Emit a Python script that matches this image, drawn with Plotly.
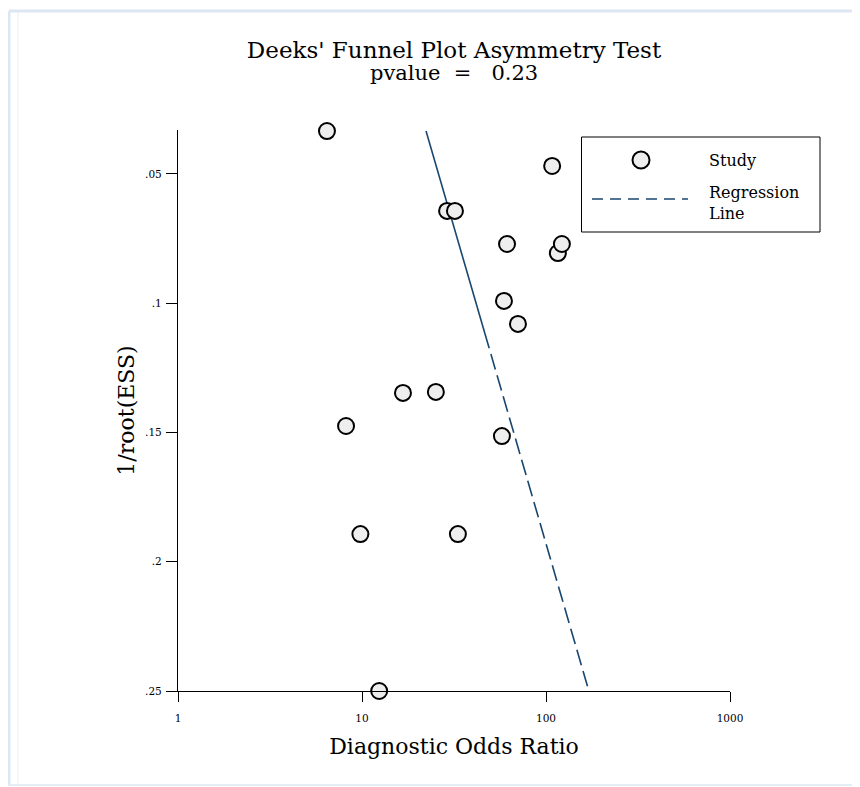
import plotly.graph_objects as go

# ---- data ----
study_dor = [6.45, 108, 29.0, 32.0, 61.4, 116, 122, 59.1, 70.4, 16.7, 25.2, 8.19, 57.6, 9.8, 33.2, 12.4]
study_inv_root_ess = [0.0334, 0.0469, 0.0643, 0.0643, 0.0771, 0.0806, 0.0771, 0.0991, 0.108,
                      0.1347, 0.1343, 0.1475, 0.1514, 0.1893, 0.1893, 0.25]

# regression: log10(DOR) = intercept + slope * (1/root(ESS))
reg_intercept = 1.2115
reg_slope = 4.086
reg_y_solid = [0.0334, 0.1115]
reg_y_dashed = [0.1115, 0.25]

x_tickvals = [1, 10, 100, 1000]
x_ticktext = ["1", "10", "100", "1000"]
y_tickvals = [0.05, 0.1, 0.15, 0.2, 0.25]
y_ticktext = [".05", ".1", ".15", ".2", ".25"]

title_text = "Deeks' Funnel Plot Asymmetry Test"
pvalue_text = "pvalue\u00a0\u00a0=\u00a0\u00a0\u00a00.23"
x_title = "Diagnostic Odds Ratio"
y_title = "1/root(ESS)"

FONT = "DejaVu Serif"
LINE_COLOR = "#1a476f"


def reg_x(ys):
    return [10 ** (reg_intercept + reg_slope * y) for y in ys]


fig = go.Figure()
fig.add_trace(go.Scatter(x=reg_x(reg_y_solid), y=reg_y_solid, mode="lines",
                         line=dict(color=LINE_COLOR, width=1.6), showlegend=False,
                         name="Regression Line", hoverinfo="skip"))
fig.add_trace(go.Scatter(x=reg_x(reg_y_dashed), y=reg_y_dashed, mode="lines",
                         line=dict(color=LINE_COLOR, width=1.6, dash="16px,6px"),
                         showlegend=False, name="Regression Line"))
fig.add_trace(go.Scatter(x=study_dor, y=study_inv_root_ess, mode="markers",
                         marker=dict(size=16, color="#eeeeee",
                                     line=dict(color="black", width=2)),
                         showlegend=False, name="Study", cliponaxis=False))

OFF = 8  # page body margin
W, H = 852, 779
L, T = 170, 122
pw, ph = 552, 561
R = W - L - pw
B = H - T - ph


def px(x):  # page pixel -> paper x
    return (x - OFF - L) / pw


def py(y):  # page pixel -> paper y
    return (T + ph - (y - OFF)) / ph


shapes = []
# outer light frame
shapes.append(dict(type="line", xref="paper", yref="paper", x0=px(9), x1=px(880), y0=py(11), y1=py(11),
                   line=dict(color="#dde7f4", width=3), layer="below"))
shapes.append(dict(type="line", xref="paper", yref="paper", x0=px(9), x1=px(9), y0=py(11), y1=py(786),
                   line=dict(color="#dde7f4", width=3), layer="below"))
shapes.append(dict(type="line", xref="paper", yref="paper", x0=px(18), x1=px(18), y0=py(12), y1=py(784),
                   line=dict(color="#e9f1ee", width=1), layer="below"))
shapes.append(dict(type="line", xref="paper", yref="paper", x0=px(9), x1=px(880), y0=py(785), y1=py(785),
                   line=dict(color="#e3edf2", width=2), layer="below"))
# legend box
shapes.append(dict(type="rect", xref="paper", yref="paper", x0=px(581.5), x1=px(820), y0=py(232), y1=py(137),
                   line=dict(color="black", width=1), fillcolor="white"))
shapes.append(dict(type="circle", xref="paper", yref="paper", xsizemode="pixel", ysizemode="pixel",
                   xanchor=px(641), yanchor=py(160), x0=-8.5, x1=8.5, y0=-8.5, y1=8.5,
                   fillcolor="#eeeeee", line=dict(color="black", width=2)))
shapes.append(dict(type="line", xref="paper", yref="paper", x0=px(592), x1=px(688), y0=py(199), y1=py(199),
                   line=dict(color=LINE_COLOR, width=1.5, dash="11px,7px")))

annotations = [
    dict(text=pvalue_text, xref="paper", yref="paper", x=0.5, y=py(73), xanchor="center",
         yanchor="middle", showarrow=False, font=dict(family=FONT, size=21, color="black")),
    dict(text="Study", xref="paper", yref="paper", x=px(707), y=py(160), xanchor="left",
         yanchor="middle", showarrow=False, font=dict(family=FONT, size=16, color="black")),
    dict(text="Regression<br>Line", xref="paper", yref="paper", x=px(707), y=py(202.5), xanchor="left",
         yanchor="middle", align="left", showarrow=False, font=dict(family=FONT, size=16, color="black")),
]

fig.update_layout(
    width=W, height=H,
    margin=dict(l=L, r=R, t=T, b=B),
    paper_bgcolor="white", plot_bgcolor="white",
    title=dict(text=title_text, x=0.5, xref="paper", y=1 - (50 - OFF) / H, yref="container",
               xanchor="center", yanchor="middle", font=dict(family=FONT, size=23, color="black")),
    shapes=shapes, annotations=annotations,
    showlegend=False,
    font=dict(family=FONT, color="black"),
)
fig.update_xaxes(type="log", range=[0, 3], tickvals=x_tickvals, ticktext=x_ticktext,
                 showgrid=False, zeroline=False, showline=True, linecolor="black", linewidth=1.3,
                 ticks="outside", ticklen=10, tickwidth=1.3, tickcolor="black", ticklabelstandoff=7,
                 tickfont=dict(family=FONT, size=10.5, color="black"),
                 title=dict(text=x_title, font=dict(family=FONT, size=22, color="black"), standoff=15))
fig.update_yaxes(range=[0.25, 0.033], tickvals=y_tickvals, ticktext=y_ticktext,
                 showgrid=False, zeroline=False, showline=True, linecolor="black", linewidth=1.3,
                 ticks="outside", ticklen=11, tickwidth=1.3, tickcolor="black", ticklabelstandoff=2,
                 tickfont=dict(family=FONT, size=10.5, color="black"),
                 title=dict(text=y_title, font=dict(family=FONT, size=22, color="black"), standoff=4))

fig.write_html("out.html")
